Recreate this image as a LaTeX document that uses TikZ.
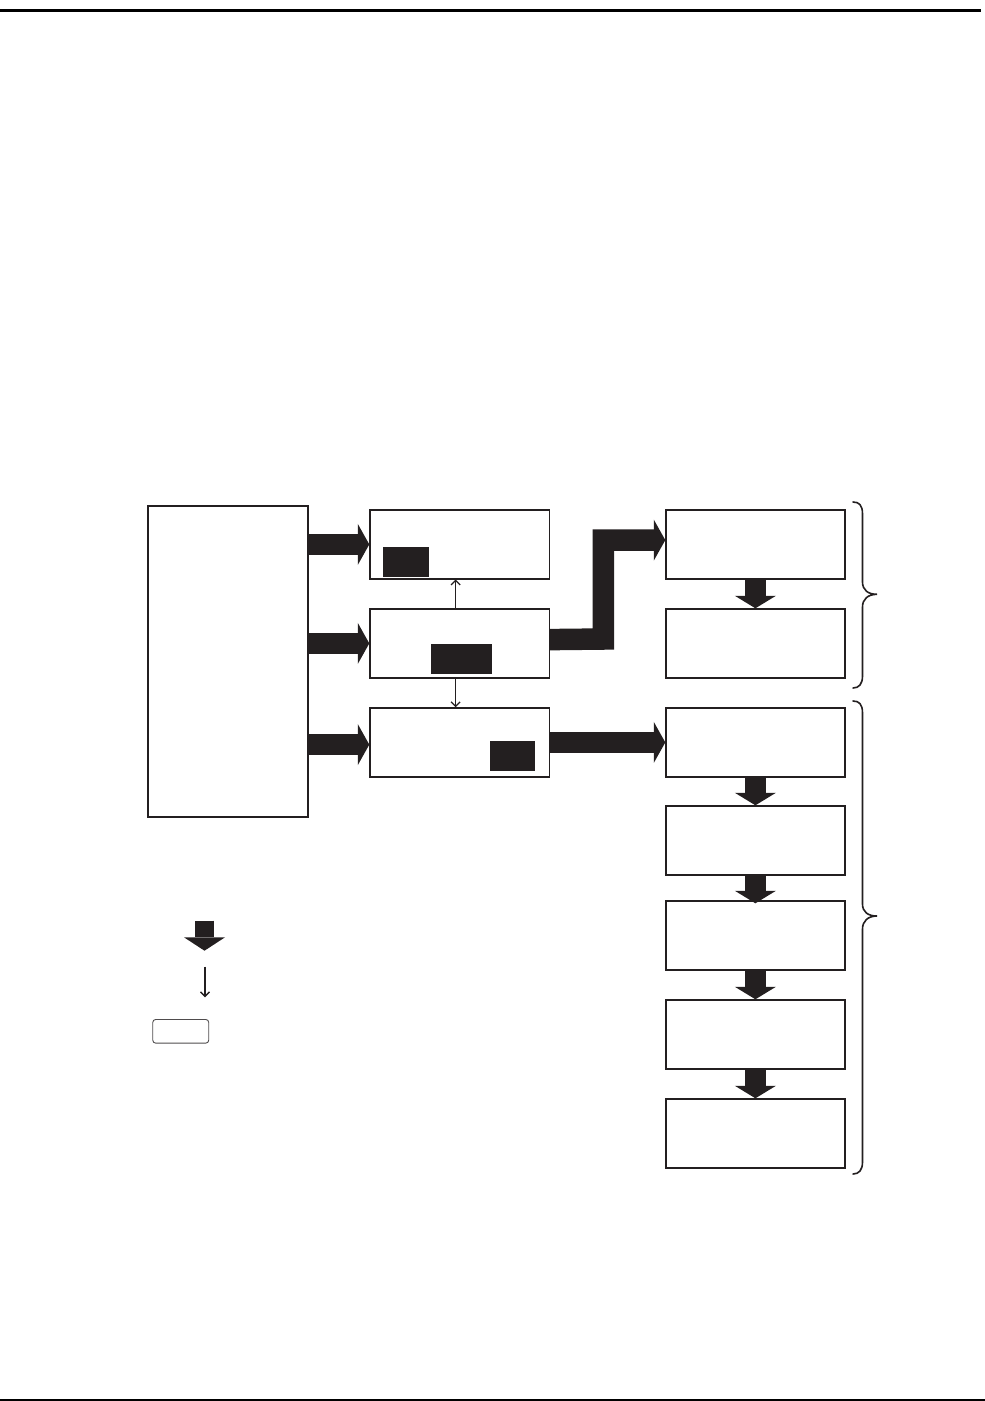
\documentclass[tikz,border=0pt]{standalone}
\usetikzlibrary{arrows.meta,calc}
\definecolor{ink}{RGB}{35,31,32}
\begin{document}
\begin{tikzpicture}[x=1pt,y=-1pt,
  box/.style={draw=ink,line width=1.2pt,inner sep=0pt,minimum width=179pt,minimum height=69pt,anchor=north west},
  tallbox/.style={draw=ink,line width=1.2pt,inner sep=0pt,minimum width=160pt,minimum height=311pt,anchor=north west},
  blk/.style={fill=ink,inner sep=0pt,minimum height=30pt,anchor=north west},
  fatH/.style={draw=ink,line width=21.5pt,line join=miter,-{Triangle[length=11.5pt,width=41pt,line width=0pt]}},
  fatV/.style={draw=ink,line width=21.5pt,-{Triangle[length=12.5pt,width=41pt,line width=0pt]}},
  thin/.style={draw=ink,line width=1.3pt,-{Straight Barb[length=4.5pt,width=9pt]}},
  brace/.style={draw=ink,line width=1.6pt,line cap=round}]
\useasboundingbox (0,0) rectangle (985,1401);
% page rules
\fill[black] (0,9) rectangle (981,12);
\fill[black] (0,1398.5) rectangle (985,1401);
% left box
\node[tallbox] (L) at (147.3,505.3) {};
% middle boxes
\node[box,minimum width=179.4pt] (m1) at (369.3,509.3) {};
\node[box,minimum width=179.4pt] (m2) at (369.3,608.3) {};
\node[box,minimum width=179.4pt] (m3) at (369.3,707.3) {};
\node[blk,minimum width=46pt] (k1) at (383,547) {};
\node[blk,minimum width=61pt] (k2) at (431,644) {};
\node[blk,minimum width=45pt] (k3) at (490,741) {};
% right boxes
\node[box] (r1) at (665.3,509.3) {};
\node[box] (r2) at (665.3,608.3) {};
\node[box] (r3) at (665.3,707.3) {};
\node[box] (r4) at (665.3,805.3) {};
\node[box] (r5) at (665.3,900.3) {};
\node[box] (r6) at (665.3,999.3) {};
\node[box] (r7) at (665.3,1098.3) {};
% fat arrows left -> middle
\draw[fatH] (L.east |- m1.west) -- (m1.west);
\draw[fatH] (L.east |- m2.west) -- (m2.west);
\coordinate (a3) at ($(m3.west)+(0,2.2)$);
\draw[fatH] (L.east |- a3) -- (a3);
% thin arrows
\draw[thin] ($(m2.north)+(-4,0)$) -- ($(m1.south)+(-4,0)$);
\draw[thin] ($(m2.south)+(-4,0)$) -- ($(m3.north)+(-4,0)$);
% elbow arrow m2 -> r1
\coordinate (e0) at ($(m2.east)+(0,-3.8)$);
\coordinate (e2) at ($(r1.west)+(0,-4.3)$);
\draw[fatH] (e0) -- (603.3,639) |- (e2);
% m3 -> r3
\draw[fatH] (m3.east) -- (r3.west);
% down arrows right column
\draw[fatV] (r1.south) -- (r2.north);
\draw[fatV] (r3.south) -- (r4.north);
\draw[fatV] (r4.south) -- ($(r5.north)+(0,3)$);
\draw[fatV] (r5.south) -- (r6.north);
\draw[fatV] (r6.south) -- (r7.north);
% braces
\draw[brace] (853,502) .. controls (859,502) and (862.5,505) .. (862.5,514)
  -- (862.5,582) .. controls (862.5,590) and (868,594.3) .. (877,594.3)
  .. controls (868,594.3) and (862.5,599) .. (862.5,607)
  -- (862.5,676) .. controls (862.5,684) and (859,688) .. (853,688);
\draw[brace] (853,701) .. controls (859,701) and (862.5,704) .. (862.5,713)
  -- (862.5,904) .. controls (862.5,912) and (868,916) .. (877,916)
  .. controls (868,916) and (862.5,921) .. (862.5,929)
  -- (862.5,1162) .. controls (862.5,1170) and (859,1174) .. (853,1174);
% legend
\coordinate (la1) at (204.5,920.7);
\coordinate (la2) at (204.5,950.7);
\draw[draw=ink,line width=19pt,-{Triangle[length=13.4pt,width=41pt,line width=0pt]}] (la1) -- (la2);
\coordinate (lt1) at (205,966.7);
\coordinate (lt2) at (205,997.3);
\draw[thin] (lt1) -- (lt2);
\node[draw=ink!80,line width=0.9pt,rounded corners=3pt,inner sep=0pt,minimum width=56pt,minimum height=23.7pt,anchor=north west] (legbox) at (152.3,1019) {};
\end{tikzpicture}
\end{document}
